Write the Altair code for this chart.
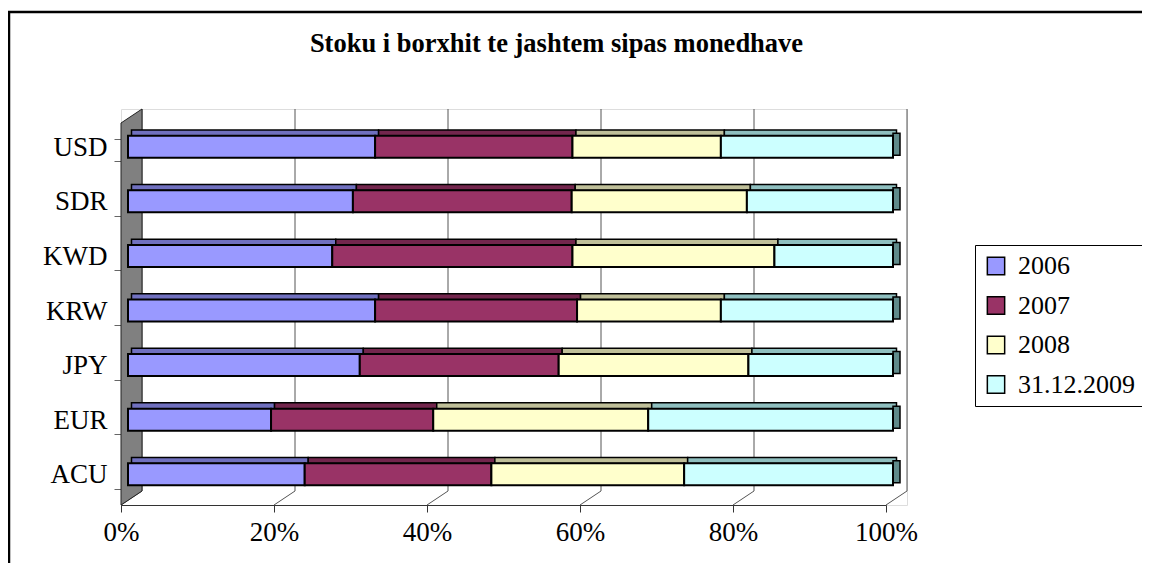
import altair as alt
import pandas as pd

# ---- data ----
currencies = ["USD", "SDR", "KWD", "KRW", "JPY", "EUR", "ACU"]
series = ["2006", "2007", "2008", "31.12.2009"]
v2006 = [32.3, 29.4, 26.7, 32.3, 30.3, 18.7, 23.1]
v2007 = [25.8, 28.6, 31.4, 26.4, 26.0, 21.2, 24.4]
v2008 = [19.4, 22.9, 26.4, 18.8, 24.8, 28.1, 25.2]
v2009 = [22.5, 19.1, 15.5, 22.5, 18.9, 32.0, 27.3]
tick_values = [0, 20, 40, 60, 80, 100]
title_text = "Stoku i borxhit te jashtem sipas monedhave"

# ---- styles ----
colors = ["#9999FF", "#993366", "#FFFFCC", "#CCFFFF"]
top_colors = ["#7070BF", "#73264D", "#BFBF99", "#8FBFBF"]
cap_color = "#5F8B8B"
FONT = "Liberation Serif"
PW, PH = 786, 396          # plot area
FRONT_W = 765               # front plane width (0..100 %)
DX, DY = 21, 14             # 3-D depth offset
BX = 7                      # bar front face depth offset
Y_TOP = 14                  # top of front plane

rows = []
for i, c in enumerate(currencies):
    vals = [v2006[i], v2007[i], v2008[i], v2009[i]]
    tot = sum(vals)
    cum = 0.0
    for s, v, tc in zip(series, vals, top_colors):
        pct = v / tot * 100
        rows.append(dict(currency=c, series=s, start=cum, end=cum + pct, topc=tc))
        cum += pct
df = pd.DataFrame(rows)
df_end = pd.DataFrame({"currency": currencies, "e": [100.0] * len(currencies)})
df_ticks = pd.DataFrame({"tick": tick_values})
df_one = pd.DataFrame({"a": [0]})
df_wall = pd.DataFrame({"wx": [0, DX], "wy": [Y_TOP, Y_TOP - DY], "wy2": [PH, PH - DY]})

xscale_front = alt.Scale(domain=[0, 100], range=[0, FRONT_W], nice=False, zero=False)
xscale_back = alt.Scale(domain=[0, 100], range=[DX, FRONT_W + DX], nice=False, zero=False)
xscale_bar = alt.Scale(domain=[0, 100], range=[BX, FRONT_W + BX], nice=False, zero=False)
xscale_top = alt.Scale(domain=[0, 100], range=[BX * 1.5, FRONT_W + BX * 1.5], nice=False, zero=False)
yscale = alt.Scale(domain=currencies, range=[Y_TOP, PH], paddingInner=0.597, paddingOuter=0.2985)

xaxis = alt.Axis(values=tick_values, labelExpr="datum.value + '%'", title=None, grid=False,
                 domainColor="#333333", tickColor="#333333", tickSize=7, labelFont=FONT,
                 labelFontSize=27, labelColor="black", labelPadding=7, labelFlush=False)
yaxis = alt.Axis(title=None, tickBand="extent", grid=False, domainColor="#333333",
                 tickColor="#666666", tickSize=7, labelFont=FONT, labelFontSize=27,
                 labelColor="black", labelPadding=7, labelOffset=-3)

border = alt.Chart(df_one).mark_rect(fill=None, stroke="black", strokeWidth=2.5).encode(
    x=alt.value(-112), x2=alt.value(1060), y=alt.value(-97), y2=alt.value(480))

title = alt.Chart(df_one).mark_text(text=title_text, font=FONT, fontSize=26.5, fontWeight="bold",
                                    align="center", baseline="alphabetic", color="black").encode(
    x=alt.value(435.5), y=alt.value(-57))

grid = alt.Chart(df_ticks).mark_rule(color="#555555", strokeWidth=1).encode(
    x=alt.X("tick:Q", scale=xscale_back, axis=None), y=alt.value(0), y2=alt.value(PH - DY))

floor = alt.Chart(df_ticks).mark_rule(color="#555555", strokeWidth=1, x2Offset=-DX).encode(
    x=alt.X("tick:Q", scale=xscale_back, axis=None), x2="tick:Q",
    y=alt.value(PH - DY), y2=alt.value(PH))

axis_layer = alt.Chart(df_ticks).mark_rule(opacity=0).encode(
    x=alt.X("tick:Q", scale=xscale_front, axis=xaxis), y=alt.value(PH), y2=alt.value(PH))

wall = alt.Chart(df_wall).mark_area(fill="#808080", stroke="#222222", strokeWidth=1, orient="vertical").encode(
    x=alt.X("wx:Q", scale=None, axis=None), y=alt.Y("wy:Q", scale=None, axis=None), y2="wy2:Q")

tops = alt.Chart(df).mark_bar(height=6, yOffset=-17.3, stroke="black", strokeWidth=1.5).encode(
    x=alt.X("start:Q", scale=xscale_top, axis=None), x2="end:Q",
    y=alt.Y("currency:N", scale=yscale, axis=None),
    fill=alt.Fill("topc:N", scale=None, legend=None))

caps = alt.Chart(df_end).mark_tick(thickness=7, size=22, yOffset=-6, fill=cap_color,
                                   stroke="black", strokeWidth=1.5, opacity=1).encode(
    x=alt.X("e:Q", scale=xscale_top, axis=None),
    y=alt.Y("currency:N", scale=yscale, axis=None))

front = alt.Chart(df).mark_bar(yOffset=-3.5, y2Offset=-3.5, stroke="black", strokeWidth=2).encode(
    x=alt.X("start:Q", scale=xscale_bar, axis=None), x2="end:Q",
    y=alt.Y("currency:N", scale=yscale, axis=yaxis, sort=currencies),
    fill=alt.Fill("series:N", scale=alt.Scale(domain=series, range=colors),
                  legend=alt.Legend(orient="none", legendX=854, legendY=136, title=None,
                                    symbolType="square", symbolSize=300,
                                    symbolStrokeColor="black", symbolStrokeWidth=1.5,
                                    labelFont=FONT, labelFontSize=26, labelColor="black",
                                    rowPadding=13.5, padding=8, labelOffset=9,
                                    strokeColor="black", fillColor="white")))

chart = alt.layer(border, title, grid, floor, axis_layer, wall, tops, caps, front).resolve_scale(
    x="independent", y="independent", fill="independent"
).properties(
    width=PW, height=PH,
    padding={"left": 113, "top": 101, "right": 235, "bottom": 58},
    autosize=alt.AutoSizeParams(type="none"),
).configure_view(stroke=None).configure(font=FONT, background="white")

chart.save("out.html", embed_options={"renderer": "svg", "actions": False})
